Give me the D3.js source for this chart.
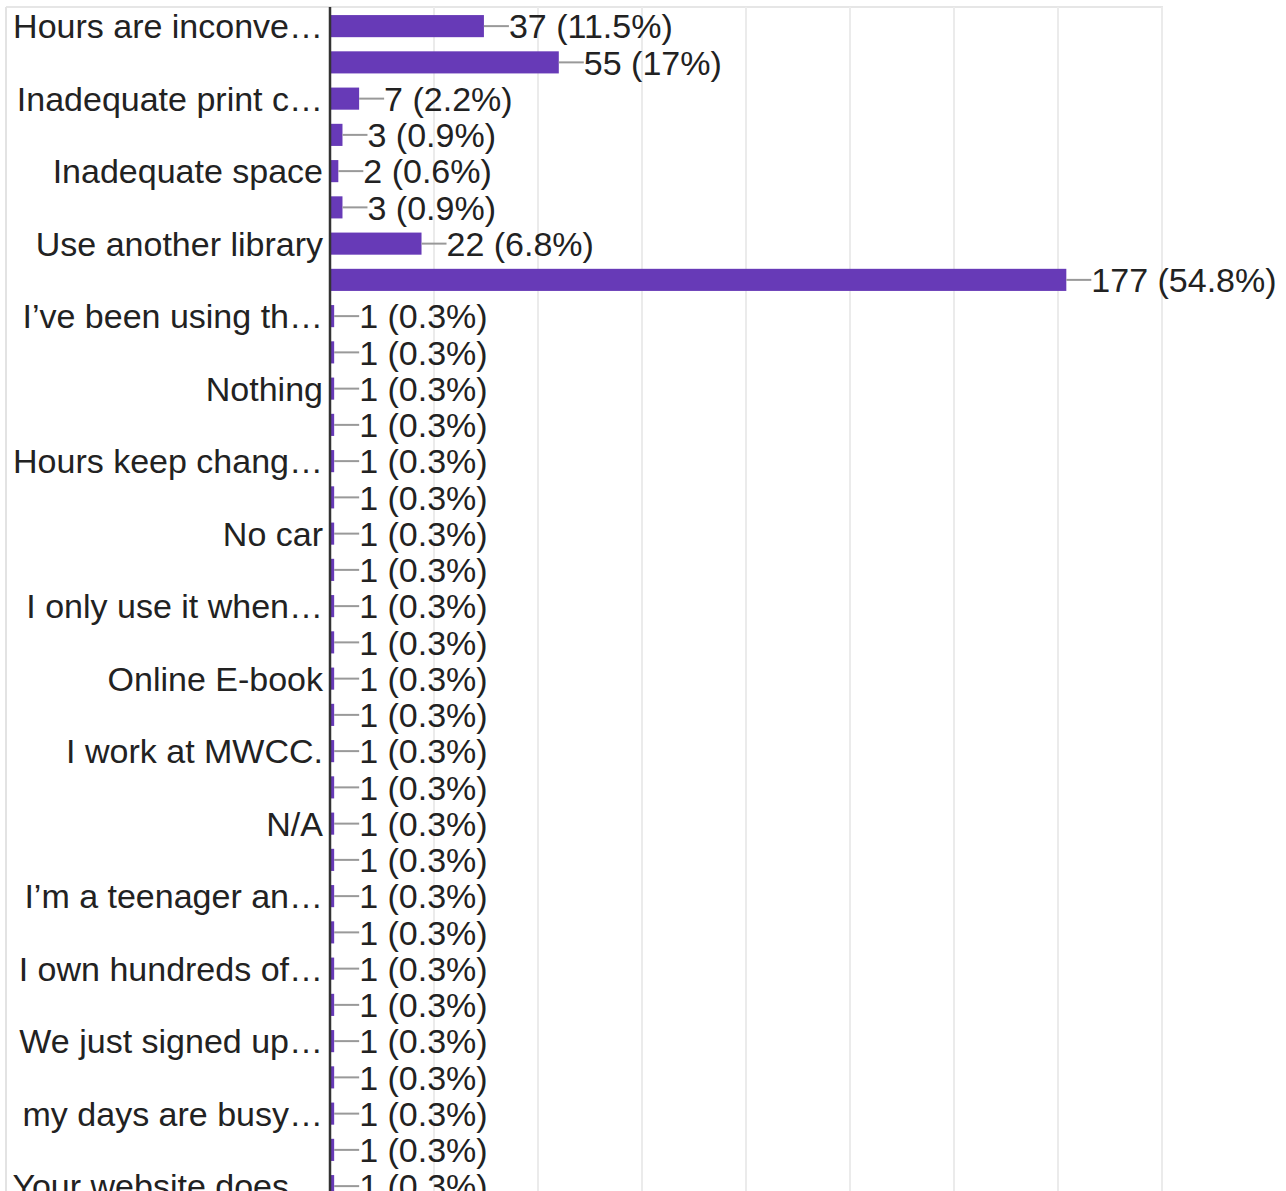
<!DOCTYPE html>
<html>
<head>
<meta charset="utf-8">
<script src="https://cdn.jsdelivr.net/npm/d3@7"></script>
<style>
  html, body { margin: 0; padding: 0; background: #fff; overflow: hidden; }
  svg { display: block; }
  text { font-family: "Liberation Sans", Arial, sans-serif; }
</style>
</head>
<body>
<div id="chart"></div>
<script>
// Category labels as shown (every other row carries a visible label)
const categories = [
  "Hours are inconve…", "", "Inadequate print c…", "", "Inadequate space", "",
  "Use another library", "", "I’ve been using th…", "", "Nothing", "",
  "Hours keep chang…", "", "No car", "", "I only use it when…", "",
  "Online E-book", "", "I work at MWCC.", "", "N/A", "",
  "I’m a teenager an…", "", "I own hundreds of…", "", "We just signed up…", "",
  "my days are busy…", "", "Your website does…"
];
const values = [
  37, 55, 7, 3, 2, 3, 22, 177, 1, 1, 1, 1, 1, 1, 1, 1, 1, 1,
  1, 1, 1, 1, 1, 1, 1, 1, 1, 1, 1, 1, 1, 1, 1
];
const percents = [
  "11.5%", "17%", "2.2%", "0.9%", "0.6%", "0.9%", "6.8%", "54.8%",
  "0.3%", "0.3%", "0.3%", "0.3%", "0.3%", "0.3%", "0.3%", "0.3%", "0.3%", "0.3%",
  "0.3%", "0.3%", "0.3%", "0.3%", "0.3%", "0.3%", "0.3%", "0.3%", "0.3%", "0.3%",
  "0.3%", "0.3%", "0.3%", "0.3%", "0.3%"
];
const xTicks = [0, 25, 50, 75, 100, 125, 150, 175, 200];

const W = 1286, H = 1191;
const plotTop = 8, rowH = 36.25;
const x0 = 330, x1 = 1162;

const svg = d3.select("#chart").append("svg").attr("width", W).attr("height", H);

const idx = d3.range(values.length);
const x = d3.scaleLinear().domain([0, 200]).range([x0, x1]);
const y = d3.scaleBand().domain(idx).range([plotTop, plotTop + rowH * idx.length]).paddingInner(0.39).paddingOuter(0.195);

// frame
svg.append("line").attr("x1", 6).attr("x2", x1 + 1).attr("y1", 7).attr("y2", 7)
  .attr("stroke", "#e6e6e6").attr("stroke-width", 2);
svg.append("line").attr("x1", 6).attr("x2", 6).attr("y1", 7).attr("y2", H)
  .attr("stroke", "#e3e3e3").attr("stroke-width", 2);

// gridlines
svg.append("g").selectAll("line").data(xTicks.slice(1)).join("line")
  .attr("x1", d => x(d)).attr("x2", d => x(d))
  .attr("y1", 7).attr("y2", H)
  .attr("stroke", "#ebebeb").attr("stroke-width", 2);

// bars
svg.append("g").selectAll("rect").data(idx).join("rect")
  .attr("x", x(0))
  .attr("y", i => y(i))
  .attr("width", i => x(values[i]) - x(0))
  .attr("height", y.bandwidth())
  .attr("fill", "#673ab7");

// leader lines
const cy = i => y(i) + y.bandwidth() / 2;
svg.append("g").selectAll("line").data(idx).join("line")
  .attr("x1", i => x(values[i]))
  .attr("x2", i => x(values[i]) + 25)
  .attr("y1", cy).attr("y2", cy)
  .attr("stroke", "#999").attr("stroke-width", 2);

// value labels
svg.append("g").selectAll("text").data(idx).join("text")
  .attr("x", i => x(values[i]) + 25)
  .attr("y", cy)
  .attr("dy", "0.36em")
  .attr("font-size", 34)
  .attr("fill", "#222")
  .text(i => `${values[i]} (${percents[i]})`);

// category labels
svg.append("g").selectAll("text").data(idx.filter(i => categories[i])).join("text")
  .attr("x", 323)
  .attr("y", cy)
  .attr("dy", "0.36em")
  .attr("text-anchor", "end")
  .attr("font-size", 34)
  .attr("fill", "#222")
  .text(i => categories[i]);

// axis line
svg.append("line").attr("x1", x0).attr("x2", x0).attr("y1", 7).attr("y2", H)
  .attr("stroke", "#333").attr("stroke-width", 2.5);
</script>
</body>
</html>
